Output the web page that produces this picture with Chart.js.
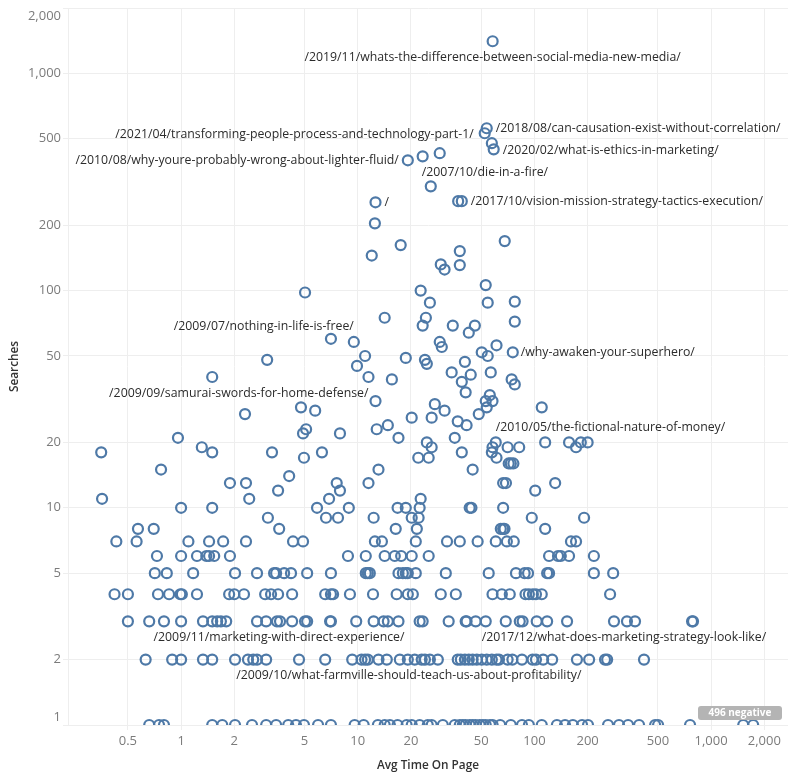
<!DOCTYPE html>
<html>
<head>
<meta charset="utf-8">
<title>Searches vs Avg Time On Page</title>
<script src="https://cdn.jsdelivr.net/npm/chart.js@4/dist/chart.umd.min.js"></script>
<style>
    html, body { margin: 0; padding: 0; background: #fff; }
    #wrap { width: 788px; height: 776px; }
</style>
</head>
<body>
<div id="wrap"><canvas id="scatterChart" width="788" height="776"></canvas></div>
<script>
// rows where many pages share the same search count
const rowSearches = [1, 2, 3, 4, 5, 6, 7, 8, 9, 10, 11, 12, 13, 14, 15, 16, 17, 18, 19, 20, 21];
const rowTimes = [
    [0.66, 0.75, 0.8, 1.5, 1.71, 2.02, 2.52, 3.03, 3.45, 4.04, 4.47, 4.96, 5.96, 7.05, 9.6, 10.8, 13, 14.2, 15.2, 16.8, 18.9, 20.2, 22.4, 24.9, 26.2, 30.3, 35.4, 37.8, 39.3, 40.8, 43, 44.7, 46.5, 49, 51, 53, 56, 58, 64, 73.5, 85, 93, 110, 134, 149, 165, 186, 201, 261, 301, 339, 391, 482, 501, 760, 1520, 1730],
    [0.63, 0.89, 1, 1.33, 1.5, 2.02, 2.39, 2.56, 2.69, 3.03, 4.65, 6.54, 9.3, 10.5, 11, 11.4, 13.1, 14.6, 17.3, 19.2, 21, 23, 24, 25.6, 28.4, 36.8, 38.3, 40.4, 42.5, 44.7, 47.2, 50.3, 53.7, 57.4, 61, 63, 70.5, 75, 85, 97.6, 102, 112, 126, 174, 204, 251, 258, 417],
    [0.5, 0.66, 0.8, 1, 1.33, 1.5, 1.6, 1.68, 1.8, 2.69, 3.03, 3.49, 3.63, 4.25, 5.03, 5.17, 6.97, 7.05, 9.8, 12.3, 14, 14.8, 17, 22.4, 23.3, 32.7, 40.8, 41.3, 46.5, 53, 68.8, 82.6, 85.7, 103, 118, 153, 282, 334, 371, 780, 790],
    [0.42, 0.5, 0.74, 0.855, 0.99, 1.01, 1.23, 1.87, 2, 2.27, 2.99, 3.23, 3.54, 4.25, 6.54, 7.05, 7.25, 9.03, 12.2, 16.6, 19.2, 20.5, 29.5, 35.9, 57.9, 65.4, 72.5, 89, 93, 98, 102, 110, 268],
    [0.71, 0.83, 1.17, 2.02, 2.69, 3.36, 3.45, 3.83, 4.19, 5.17, 7.05, 11.1, 11.4, 11.7, 17, 18, 18.7, 19.2, 21.3, 31.5, 55.1, 78.6, 88, 92, 118, 121, 217, 279],
    [0.73, 1, 1.23, 1.39, 1.44, 1.54, 1.89, 8.8, 11.1, 14.2, 16.2, 17.6, 20.2, 25.2, 121, 136, 141, 157, 217],
    [0.43, 0.56, 1.1, 1.44, 1.73, 2.33, 4.3, 4.9, 12.5, 13.7, 21.3, 32, 37.8, 47.7, 60.4, 69.8, 76.4, 161, 172],
    [0.57, 0.7, 3.59, 16.4, 21.6, 64.5, 66.5, 67.7, 115],
    [3.1, 6.61, 7.73, 12.3, 20.2, 22.1, 96.6, 191],
    [1, 1.5, 5.88, 8.9, 16.8, 18.7, 22.4, 43, 44, 66.5],
    [0.357, 2.43, 6.88, 22.7],
    [3.54, 7.93, 101],
    [1.89, 2.33, 7.6, 11.5, 66.5, 69, 131],
    [4.09],
    [0.77, 13.1, 44.7],
    [71.5, 73.5, 76],
    [4.96, 22, 25.2, 61],
    [0.353, 1.5, 3.27, 6.27, 38.8, 57.4],
    [1.31, 26.2, 57.9, 70.5, 82, 172],
    [24.6, 60.4, 115, 157, 183, 200],
    [0.96, 17, 35.4]
];

// the scattered pages above those rows
const upperTimes = [58, 53.7, 52.3, 57.4, 58.8, 19.2, 23.3, 29.1, 25.9, 37, 38.8, 12.6, 12.5, 12, 17.5, 37.8, 67.9, 29.5, 31, 37.8, 53, 54.4, 77.4, 22.7, 25.6, 77.4, 14.2, 24.3, 23.3, 34.5, 46, 42.5, 29.1, 29.9, 5.03, 7.05, 9.5, 3.07, 11, 18.7, 9.9, 11.5, 15.6, 1.5, 24, 24.6, 50.3, 54.4, 61, 75.4, 40.4, 34, 43.6, 38.8, 56.6, 74.3, 77.4, 40.8, 55.9, 12.6, 53, 57.9, 4.77, 5.74, 2.3, 20.2, 14.8, 12.8, 5.1, 4.9, 7.93, 110, 53.7, 48.4, 27.3, 31, 26.2, 36.8, 41.3];
const upperSearches = [1406, 559, 530, 477, 447, 398, 415, 429, 302, 258, 258, 255, 204, 145, 162, 152, 169, 132, 125, 131, 106, 88, 89, 100, 88, 72, 75, 75, 69, 69, 69, 64, 58, 55, 98, 60, 58, 48, 50, 49, 45, 40, 39, 40, 48, 46, 52, 50, 56, 52, 47, 42, 41, 38, 42, 39, 37, 34, 33, 31, 31, 31, 29, 28, 27, 26, 24, 23, 23, 22, 22, 29, 29, 27, 30, 28, 26, 25, 24];

const xTicks = [0.5, 1, 2, 5, 10, 20, 50, 100, 200, 500, 1000, 2000];
const yTicks = [1, 2, 5, 10, 20, 50, 100, 200, 500, 1000, 2000];

// annotated pages: text plus the point each one belongs to
const labelTexts = [
    '/2019/11/whats-the-difference-between-social-media-new-media/',
    '/2021/04/transforming-people-process-and-technology-part-1/',
    '/2010/08/why-youre-probably-wrong-about-lighter-fluid/',
    '/2018/08/can-causation-exist-without-correlation/',
    '/2020/02/what-is-ethics-in-marketing/',
    '/2007/10/die-in-a-fire/',
    '/',
    '/2017/10/vision-mission-strategy-tactics-execution/',
    '/2009/07/nothing-in-life-is-free/',
    '/why-awaken-your-superhero/',
    '/2009/09/samurai-swords-for-home-defense/',
    '/2010/05/the-fictional-nature-of-money/',
    '/2009/11/marketing-with-direct-experience/',
    '/2017/12/what-does-marketing-strategy-look-like/',
    '/2009/10/what-farmville-should-teach-us-about-profitability/'
];
const labelX = [58, 52.3, 19.2, 53.7, 58.8, 25.9, 12.6, 38.8, 9.5, 75.4, 12.6, 60.4, 17, 53, 19.2];
const labelY = [1406, 530, 398, 559, 447, 302, 255, 258, 58, 52, 31, 20, 3, 3, 2];

// how each label sits against its point
const labelPlacement = [
    ['center', 0, 16], ['right', -11, 1], ['right', -9, 0], ['left', 9, 0], ['left', 9, 1],
    ['left', -9, -14], ['left', 9, 0], ['left', 9, 0], ['right', 0, -15], ['left', 8, 0],
    ['right', -7, -8], ['left', 0, -15], ['right', 6, 16], ['left', -4, 16], ['center', 1, 16]
];

const negativeNote = '496 negative';

const points = [];
rowTimes.forEach((times, i) => {
    times.forEach(t => points.push({ x: t, y: rowSearches[i] }));
});
upperTimes.forEach((t, i) => points.push({ x: t, y: upperSearches[i] }));

const gridColor = '#eeeeee';
const tickColor = '#7b7b7b';
const formatTick = v => Number(v).toLocaleString('en-US');

// page names next to the points, and the grey badge in the corner
const annotationPlugin = {
    id: 'annotations',
    afterDatasetsDraw(chart) {
        const { ctx, scales, chartArea } = chart;
        ctx.save();
        ctx.font = '12.3px "Open Sans"';
        ctx.fillStyle = '#2b2b2b';
        ctx.textBaseline = 'middle';
        labelTexts.forEach((text, i) => {
            const [align, dx, dy] = labelPlacement[i];
            ctx.textAlign = align;
            ctx.fillText(text, scales.x.getPixelForValue(labelX[i]) + dx, scales.y.getPixelForValue(labelY[i]) + dy);
        });

        const w = 84, h = 14;
        const left = chartArea.right - 6 - w;
        const top = chartArea.bottom - 5 - h;
        ctx.fillStyle = '#b4b4b4';
        ctx.beginPath();
        ctx.roundRect(left, top, w, h, 3);
        ctx.fill();
        ctx.fillStyle = '#ffffff';
        ctx.font = 'bold 10px "Open Sans"';
        ctx.textAlign = 'center';
        ctx.fillText(negativeNote, left + w / 2, top + h / 2);
        ctx.restore();
    }
};

new Chart(document.getElementById('scatterChart'), {
    type: 'scatter',
    data: {
        datasets: [{
            data: points,
            pointStyle: 'circle',
            pointRadius: 5,
            pointBorderWidth: 2.2,
            pointBackgroundColor: 'transparent',
            pointBorderColor: '#4e79a7',
            clip: 0
        }]
    },
    options: {
        responsive: false,
        animation: false,
        layout: { autoPadding: false, padding: { top: 8 } },
        plugins: { legend: { display: false }, tooltip: { enabled: false } },
        scales: {
            x: {
                type: 'logarithmic',
                min: 0.229,
                max: 2724,
                afterBuildTicks: scale => { scale.ticks = xTicks.map(v => ({ value: v })); },
                afterFit: scale => { scale.height = 51; },
                grid: { color: gridColor, tickLength: 5 },
                border: { color: gridColor },
                ticks: {
                    autoSkip: false,
                    maxRotation: 0,
                    padding: 3,
                    color: tickColor,
                    font: { family: 'Open Sans', size: 13 },
                    callback: formatTick
                },
                title: {
                    display: true,
                    text: 'Avg Time On Page',
                    color: '#333333',
                    font: { family: 'Open Sans', size: 11.8, weight: '600' },
                    padding: { top: 0, bottom: 3 }
                }
            },
            y: {
                type: 'logarithmic',
                min: 1,
                max: 2000,
                afterBuildTicks: scale => { scale.ticks = yTicks.map(v => ({ value: v })); },
                // the two-line end labels must not push the plot area down
                afterFit: scale => {
                    scale.width = 68;
                    scale.paddingTop = 0;
                    scale.paddingBottom = 0;
                    scale._margins.top = 0;
                    scale._margins.bottom = 0;
                },
                grid: { color: gridColor, tickLength: 5 },
                border: { color: gridColor },
                ticks: {
                    autoSkip: false,
                    padding: 2,
                    color: tickColor,
                    font: { family: 'Open Sans', size: 13 },
                    // end labels are nudged inside the plot, as in the original
                    callback: v => {
                        if (v === 2000) return ['', formatTick(v)];
                        if (v === 1) return [formatTick(v), ''];
                        return formatTick(v);
                    }
                },
                title: {
                    display: true,
                    text: 'Searches',
                    color: '#333333',
                    font: { family: 'Open Sans', size: 11.8, weight: '600' },
                    padding: { top: 8, bottom: 0 }
                }
            }
        }
    },
    plugins: [annotationPlugin]
});
</script>
</body>
</html>
